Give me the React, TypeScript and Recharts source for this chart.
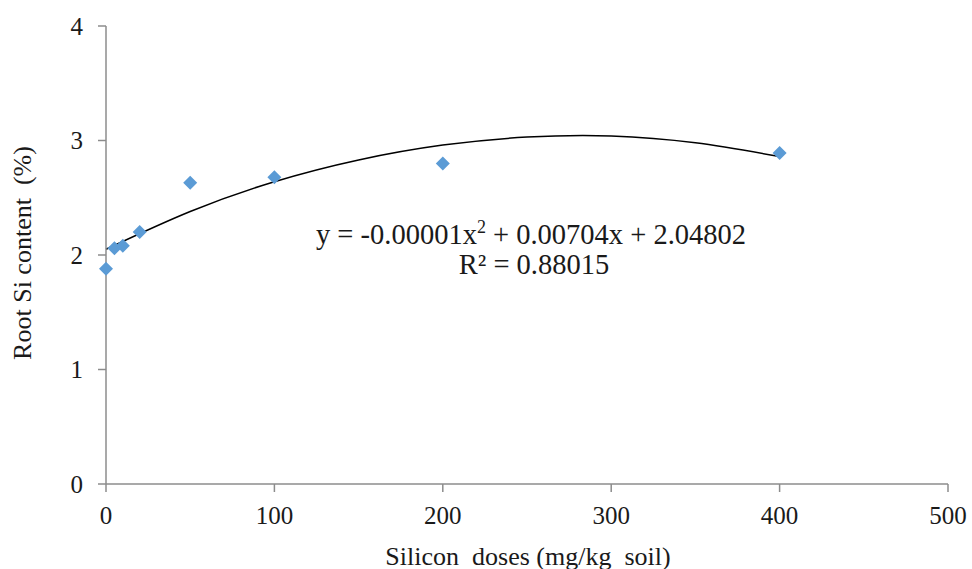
import { ComposedChart, Scatter, Line, XAxis, YAxis } from 'recharts'

// Silicon dose (mg/kg soil) and measured root Si content (%)
const doses = [0, 5, 10, 20, 50, 100, 200, 400]
const rootSi = [1.88, 2.06, 2.08, 2.2, 2.63, 2.68, 2.8, 2.89]

// polynomial trendline
const trendX = [0, 50, 100, 150, 200, 250, 300, 350, 400]
const trendY = [2.05, 2.38, 2.64, 2.83, 2.96, 3.03, 3.04, 2.98, 2.86]

const xTicks = [0, 100, 200, 300, 400, 500]
const yTicks = [0, 1, 2, 3, 4]

const points = doses.map((x, i) => ({ x, y: rootSi[i] }))
const trend = trendX.map((x, i) => ({ x, y: trendY[i] }))

const FONT = "'Liberation Serif', 'Times New Roman', serif"
const AXIS = '#8c8c8c'
const INK = '#1a1a1a'
const BLUE = '#5b9bd5'

const Diamond = (props: { cx?: number; cy?: number }) => {
  const { cx, cy } = props
  if (cx == null || cy == null) return null
  const r = 7
  return (
    <polygon
      points={`${cx},${cy - r} ${cx + r},${cy} ${cx},${cy + r} ${cx - r},${cy}`}
      fill={BLUE}
    />
  )
}

export default function App() {
  return (
    <div style={{ width: 972, height: 569 }}>
      <style>{'body{margin:0}'}</style>
      <ComposedChart width={972} height={569} margin={{ top: 26, right: 24, bottom: 25, left: 0 }}>
        <XAxis
          type="number"
          dataKey="x"
          domain={[0, 500]}
          ticks={xTicks}
          height={60}
          stroke={AXIS}
          strokeWidth={1.5}
          tickSize={8}
          tickMargin={14}
          tick={{ fill: INK, fontSize: 25, fontFamily: FONT }}
        />
        <YAxis
          type="number"
          dataKey="y"
          domain={[0, 4]}
          ticks={yTicks}
          width={106}
          stroke={AXIS}
          strokeWidth={1.5}
          tickSize={8}
          tickMargin={15}
          tick={{ fill: INK, fontSize: 25, fontFamily: FONT }}
        />
        <Line
          data={trend}
          dataKey="y"
          type="natural"
          stroke="#000"
          strokeWidth={1.5}
          dot={false}
          activeDot={false}
          isAnimationActive={false}
        />
        <Scatter data={points} dataKey="y" shape={<Diamond />} isAnimationActive={false} />

        <text
          x={22}
          y={253}
          transform="rotate(-90 22 253)"
          textAnchor="middle"
          dominantBaseline="central"
          fontSize={26}
          fontFamily={FONT}
          fill={INK}
          style={{ whiteSpace: 'pre' }}
        >
          Root Si content  (%)
        </text>
        <text
          x={528}
          y={556}
          textAnchor="middle"
          dominantBaseline="central"
          fontSize={26}
          fontFamily={FONT}
          fill={INK}
          style={{ whiteSpace: 'pre' }}
        >
          Silicon  doses (mg/kg  soil)
        </text>
        <text x={531} y={244} textAnchor="middle" fontSize={28.5} fontFamily={FONT} fill={INK}>
          y = -0.00001x
          <tspan fontSize={18} dy={-11}>2</tspan>
          <tspan dy={11}> + 0.00704x + 2.04802</tspan>
        </text>
        <text x={534} y={274} textAnchor="middle" fontSize={28.5} fontFamily={FONT} fill={INK}>
          R² = 0.88015
        </text>
      </ComposedChart>
    </div>
  )
}
